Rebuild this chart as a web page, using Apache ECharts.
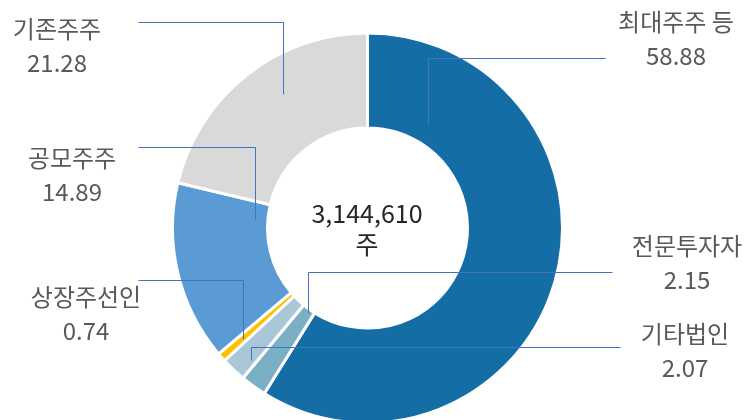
<!DOCTYPE html>
<html>
<head>
<meta charset="utf-8">
<script src="https://cdn.jsdelivr.net/npm/echarts@6/dist/echarts.min.js"></script>
<style>html,body{margin:0;padding:0;background:#fff;}#c{width:745px;height:420px;}</style>
</head>
<body>
<div id="c"></div>
<script>
var categories = ['최대주주 등', '전문투자자', '기타법인', '상장주선인', '공모주주', '기존주주'];
var values = [58.88, 2.15, 2.07, 0.74, 14.89, 21.28];
var centerLines = ['3,144,610', '주'];

var colors = ['#156da6', '#7bafc5', '#a9c7d7', '#ffc000', '#5b9bd5', '#d9d9d9'];
// label block centres and leader line points (layout only)
var labelPos = [[676, 39], [687, 263], [685, 351], [86, 314], [72, 175], [57, 46]];
var leader = [
  [[428, 125], [428, 58], [605, 58]],
  [[308, 313], [308, 272.5], [612, 272.5]],
  [[251, 360], [251, 347.5], [620, 347.5]],
  [[243, 339], [243, 280], [138, 280]],
  [[255, 219], [255, 147.5], [138, 147.5]],
  [[283, 94], [283, 22.5], [138, 22.5]]
];

var chart = echarts.init(document.getElementById('c'));
var graphics = leader.map(function (pts) {
  return {
    type: 'polyline',
    z: 100,
    shape: { points: pts.map(function (p) { return [Math.round(p[0]) + 0.5, Math.floor(p[1]) + 0.5]; }) },
    style: { stroke: '#4472c4', lineWidth: 1, fill: null }
  };
});
graphics.push({
  type: 'text',
  z: 100,
  style: {
    text: centerLines.join('\n'),
    x: 367, y: 229,
    align: 'center',
    verticalAlign: 'middle',
    fontFamily: 'Noto Sans CJK KR',
    fontSize: 25,
    lineHeight: 31,
    fill: '#262626'
  }
});
chart.setOption({
  animation: false,
  color: colors,
  series: [{
    type: 'pie',
    center: [367.5, 228],
    radius: [100, 195],
    startAngle: 90,
    clockwise: true,
    avoidLabelOverlap: false,
    itemStyle: { borderColor: '#ffffff', borderWidth: 3 },
    label: {
      show: true,
      formatter: function (p) { return p.name + '\n' + p.value.toFixed(2); },
      fontFamily: 'Noto Sans CJK KR',
      fontSize: 24,
      lineHeight: 34,
      color: '#595959',
      align: 'center'
    },
    labelLine: { show: false },
    labelLayout: function (p) {
      var i = p.dataIndex;
      return {
        x: labelPos[i][0],
        y: labelPos[i][1],
        align: 'center',
        verticalAlign: 'middle'
      };
    },
    emphasis: { disabled: true },
    data: categories.map(function (n, i) { return { name: n, value: values[i] }; })
  }],
  graphic: graphics
});
</script>
</body>
</html>
